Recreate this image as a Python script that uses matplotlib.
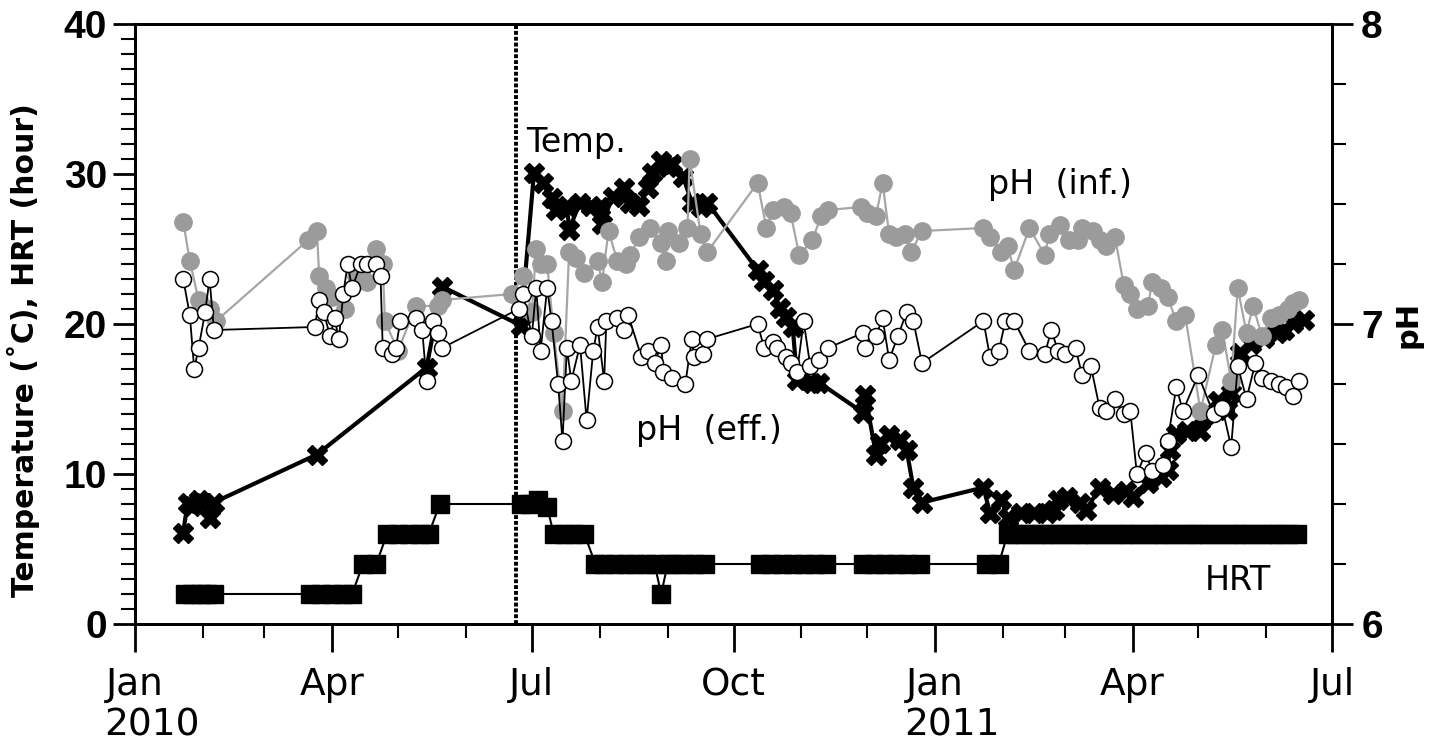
import numpy as np
import matplotlib
matplotlib.use("Agg")
import matplotlib.pyplot as plt
import matplotlib.dates as mdates
import matplotlib.transforms as mtransforms
from matplotlib.ticker import MultipleLocator, FuncFormatter
from datetime import datetime

# ---------------- data (days since 2010-01-01) ----------------
temp_day = [22, 24, 26, 29, 31, 34, 36, 83, 133, 140, 176, 182, 186, 190, 192, 197, 198,
            203, 208, 212, 213, 218, 223, 226, 230, 234, 236, 240, 243, 245, 250, 254, 258,
            261, 284, 287, 291, 294, 297, 300, 302, 309, 312, 332, 333, 338, 340, 344, 349,
            352, 355, 359, 387, 390, 395, 398, 404, 410, 416, 419, 421, 425, 431, 434, 440,
            446, 452, 455, 462, 468, 471, 472, 475, 480, 486, 487, 494, 498, 500, 504, 509,
            515, 521, 524, 528, 533]
temp_val = [6.1, 8.1, 7.9, 8.3, 8.1, 7.1, 8.1, 11.3, 17.1, 22.5, 19.9, 30.1, 29.4, 28.4,
            27.6, 27.9, 26.3, 28.1, 27.9, 27.8, 26.7, 28.5, 29.1, 28.1, 27.9, 29.1, 30.1,
            30.9, 30.5, 30.7, 29.8, 28.1, 27.8, 28.1, 23.6, 22.9, 22.3, 21.1, 20.5, 19.8,
            16.3, 16.1, 16.1, 14.1, 15.3, 11.3, 12.1, 12.6, 12.3, 11.6, 9.1, 8.1, 9.1, 7.4,
            8.3, 7.1, 7.4, 7.4, 7.4, 7.6, 8.3, 8.5, 8.1, 7.6, 9.1, 8.7, 8.9, 8.5, 9.4, 9.8,
            10.3, 11.6, 12.7, 12.9, 12.9, 13.8, 14.9, 14.3, 15.4, 18.1, 18.7, 19.1, 19.4,
            19.6, 20.1, 20.3]

hrt_day = [23, 26, 30, 33, 36, 80, 85, 90, 95, 99, 104, 110, 115, 120, 125, 130, 134, 139,
           176, 180, 184, 188, 191, 196, 200, 205, 210, 214, 219, 224, 228, 233, 237, 240,
           243, 246, 251, 255, 260, 285, 290, 295, 300, 305, 310, 315, 332, 337, 342, 347,
           352, 358, 388, 394, 398, 402, 406, 410, 414, 418, 422, 426, 430, 434, 438, 442,
           446, 450, 454, 458, 462, 466, 470, 474, 478, 482, 486, 490, 494, 498, 502, 506,
           510, 514, 518, 522, 526, 530]
hrt_val = [2, 2, 2, 2, 2, 2, 2, 2, 2, 2, 4, 4, 6, 6, 6, 6, 6, 8,
           8, 8, 8.3, 7.8, 6, 6, 6, 6, 4, 4, 4, 4, 4, 4, 4, 2,
           4, 4, 4, 4, 4, 4, 4, 4, 4, 4, 4, 4, 4, 4, 4, 4,
           4, 4, 4, 4, 6, 6, 6, 6, 6, 6, 6, 6, 6, 6, 6, 6,
           6, 6, 6, 6, 6, 6, 6, 6, 6, 6, 6, 6, 6, 6, 6, 6,
           6, 6, 6, 6, 6, 6]

ph_inf_day = [22, 25, 29, 34, 37, 79, 83, 84, 87, 90, 96, 101, 106, 110, 113, 114, 120, 128,
              138, 140, 172, 177, 181, 183, 185, 188, 191, 195, 198, 201, 205, 211, 213, 216,
              220, 224, 226, 230, 235, 240, 242, 243, 248, 252, 253, 258, 261, 284, 288, 291,
              296, 299, 303, 309, 313, 316, 331, 334, 338, 341, 344, 347, 351, 354, 359, 387,
              390, 395, 398, 401, 408, 415, 417, 422, 426, 430, 432, 437, 440, 443, 447, 451,
              454, 457, 462, 464, 468, 471, 475, 479, 486, 493, 496, 500, 503, 507, 510, 514,
              518, 522, 526, 528, 531]
ph_inf_val = [7.34, 7.21, 7.08, 7.05, 7.01, 7.28, 7.31, 7.16, 7.12, 7.09, 7.05, 7.16, 7.14,
              7.25, 7.20, 7.01, 6.91, 7.06, 7.06, 7.08, 7.10, 7.16, 7.04, 7.25, 7.20, 7.20,
              6.97, 6.71, 7.24, 7.22, 7.17, 7.21, 7.14, 7.31, 7.21, 7.20, 7.23, 7.29, 7.32,
              7.27, 7.21, 7.31, 7.27, 7.32, 7.55, 7.30, 7.24, 7.47, 7.32, 7.38, 7.39, 7.37,
              7.23, 7.28, 7.36, 7.38, 7.39, 7.37, 7.36, 7.47, 7.30, 7.29, 7.30, 7.24, 7.31,
              7.32, 7.29, 7.24, 7.26, 7.18, 7.32, 7.23, 7.30, 7.33, 7.28, 7.28, 7.32, 7.31,
              7.28, 7.26, 7.29, 7.13, 7.10, 7.05, 7.06, 7.14, 7.12, 7.09, 7.01, 7.03, 6.71,
              6.93, 6.98, 6.81, 7.12, 6.97, 7.06, 6.96, 7.02, 7.03, 7.05, 7.07, 7.08]

ph_eff_day = [22, 25, 27, 29, 32, 34, 36, 82, 84, 86, 89, 91, 93, 95, 97, 99, 103, 106, 110,
              112, 113, 117, 119, 121, 128, 131, 133, 136, 138, 140, 175, 177, 181, 183, 185,
              188, 190, 193, 195, 197, 199, 203, 206, 209, 211, 214, 215, 220, 223, 225, 231,
              234, 237, 240, 241, 245, 251, 254, 255, 259, 261, 284, 287, 291, 293, 297, 299,
              302, 305, 308, 312, 316, 332, 333, 338, 341, 344, 348, 352, 355, 359, 387, 390,
              394, 397, 401, 408, 415, 418, 421, 424, 429, 432, 436, 440, 443, 447, 451, 454,
              457, 461, 464, 469, 471, 475, 478, 485, 492, 496, 500, 503, 507, 511, 514, 518,
              522, 525, 528, 531]
ph_eff_val = [7.15, 7.03, 6.85, 6.92, 7.04, 7.15, 6.98, 6.99, 7.08, 7.04, 6.96, 7.02, 6.95,
              7.10, 7.20, 7.12, 7.20, 7.20, 7.20, 7.16, 6.92, 6.90, 6.92, 7.01, 7.02, 6.98,
              6.81, 7.01, 6.97, 6.92, 7.05, 7.10, 6.96, 7.12, 6.91, 7.12, 7.01, 6.80, 6.61,
              6.92, 6.81, 6.93, 6.68, 6.91, 6.99, 6.81, 7.01, 7.02, 6.98, 7.03, 6.89, 6.91,
              6.87, 6.93, 6.84, 6.82, 6.80, 6.95, 6.89, 6.90, 6.95, 7.00, 6.92, 6.94, 6.92,
              6.89, 6.87, 6.84, 7.01, 6.86, 6.88, 6.92, 6.97, 6.92, 6.96, 7.02, 6.88, 6.96,
              7.04, 7.01, 6.87, 7.01, 6.89, 6.91, 7.01, 7.01, 6.91, 6.90, 6.98, 6.91, 6.90,
              6.92, 6.83, 6.86, 6.72, 6.71, 6.75, 6.70, 6.71, 6.50, 6.57, 6.51, 6.53, 6.61,
              6.79, 6.71, 6.83, 6.70, 6.72, 6.59, 6.86, 6.75, 6.87, 6.82, 6.81, 6.80, 6.79,
              6.76, 6.81]

change_day = 174  # dotted vertical marker (late June 2010)

month_labels = {1: "Jan", 4: "Apr", 7: "Jul", 10: "Oct"}
year_labels = ["2010", "2011"]

# ---------------- plot ----------------
base = mdates.date2num(datetime(2010, 1, 1))
def to_x(days):
    return base + np.asarray(days, dtype=float)

plt.rcParams['font.family'] = ['DejaVu Sans']
fig = plt.figure(figsize=(14.4, 7.45), dpi=100)
ax = fig.add_axes([135/1440, 1 - 624/745, (1332-135)/1440, (624-24)/745])
ax2 = ax.twinx()

ax.plot(to_x(hrt_day), hrt_val, '-', color='black', lw=1.5, marker='s', ms=13,
        mfc='black', mec='black', zorder=3)
ax.plot(to_x(temp_day), temp_val, '-', color='black', lw=3, marker='X', ms=14.5,
        mfc='black', mec='black', zorder=4)
ax.axvline(to_x([change_day])[0], color='black', lw=2.8, ls=(0, (1.0, 0.5)), zorder=2)

ax2.plot(to_x(ph_inf_day), ph_inf_val, '-', color='#a6a6a6', lw=1.6, marker='o', ms=12.5,
         mfc='#9b9b9b', mec='#9b9b9b', zorder=3)
ax2.plot(to_x(ph_eff_day), ph_eff_val, '-', color='black', lw=1.3, marker='o', ms=11.5,
         mfc='white', mec='black', mew=1.1, zorder=4)

ax.set_xlim(base, mdates.date2num(datetime(2011, 7, 1)))
ax.set_ylim(0, 40)
ax2.set_ylim(6, 8)

ax.xaxis.set_major_locator(mdates.MonthLocator(bymonth=[1, 4, 7, 10]))
ax.xaxis.set_minor_locator(mdates.MonthLocator())
ax.xaxis.set_major_formatter(FuncFormatter(lambda x, pos: month_labels.get(mdates.num2date(x).month, "")))

ax.yaxis.set_major_locator(MultipleLocator(10))
ax.yaxis.set_minor_locator(MultipleLocator(1))
ax2.yaxis.set_major_locator(MultipleLocator(1))
ax2.yaxis.set_minor_locator(MultipleLocator(0.2))

for a in (ax, ax2):
    for s in a.spines.values():
        s.set_linewidth(2)
ax.tick_params(axis='x', which='major', direction='out', length=20, width=2, labelsize=27, pad=11)
ax.tick_params(axis='x', which='minor', direction='out', length=10, width=1.5)
ax.tick_params(axis='y', which='major', direction='out', length=16, width=2, labelsize=28, pad=4)
ax.tick_params(axis='y', which='minor', direction='out', length=10, width=1.5)
ax2.tick_params(axis='y', which='major', direction='out', length=15, width=2, labelsize=28, pad=6)
ax2.tick_params(axis='y', which='minor', direction='out', length=10, width=1.5)
for lab in ax.get_yticklabels() + ax2.get_yticklabels():
    lab.set_fontfamily(['Liberation Sans', 'DejaVu Sans'])
    lab.set_fontweight('bold')

# year labels below the January ticks, left-aligned with the month text
trans = mtransforms.blended_transform_factory(ax.transData, ax.transAxes)
for i, yl in enumerate(year_labels):
    xj = mdates.date2num(datetime(2010 + i, 1, 1))
    ax.annotate(yl, xy=(xj, 0), xycoords=trans, xytext=(-31, -84),
                textcoords='offset pixels', ha='left', va='top', fontsize=27,
                annotation_clip=False)

ax.set_ylabel("Temperature (˚C), HRT (hour)", fontsize=21.5, fontweight='bold')
ax.yaxis.set_label_coords(-0.0794, 0.457)
ax2.set_ylabel("pH", fontsize=22, fontweight='bold', labelpad=8)

ax.text(to_x([201])[0], 32.1, "Temp.", fontsize=24, ha='center', va='center')
ax.text(to_x([422])[0], 29.3, "pH  (inf.)", fontsize=24, ha='center', va='center')
ax.text(to_x([262])[0], 12.9, "pH  (eff.)", fontsize=24, ha='center', va='center')
ax.text(to_x([503])[0], 2.9, "HRT", fontsize=24, ha='center', va='center')

fig.savefig("out.png", dpi=100)
